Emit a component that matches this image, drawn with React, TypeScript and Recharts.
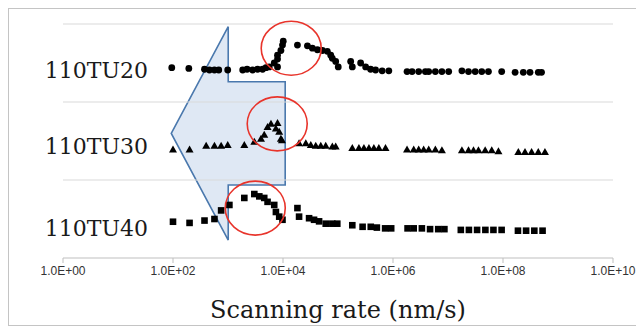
import { ScatterChart, Scatter, XAxis, YAxis, ReferenceLine, ReferenceDot, ReferenceArea } from 'recharts'

// row names (bottom to top) and where their labels sit on the y scale
const rowNames = ['110TU40', '110TU30', '110TU20']
const rowTicks = [0.38, 1.44, 2.41]
const bandLines = [1, 2, 3]
const xTicks = [1, 1e2, 1e4, 1e6, 1e8, 1e10]

// scanning rate (nm/s) and plotted position
const tu20Rate = [
  95, 194, 374, 460, 567, 679, 988, 1850, 2220, 2800, 3450, 4250, 4900, 5620, 6930, 7950, 7950, 9160, 9790, 10100,
  7950, 18300, 27800, 34200, 42200, 52000, 64000, 73800, 78900, 90800, 101000, 170000, 182000, 258000, 318000,
  391000, 482000, 635000, 840000, 1.8e6, 2.22e6, 2.93e6, 3.88e6, 4.46e6, 5.89e6, 7.75e6, 1.03e7, 1.79e7, 2.36e7,
  3.12e7, 4.11e7, 5.44e7, 9.47e7, 1.66e8, 2.34e8, 3.1e8, 4.38e8, 5.02e8,
]
const tu20Pos = [
  2.44, 2.43, 2.42, 2.41, 2.41, 2.41, 2.41, 2.41, 2.42, 2.41, 2.42, 2.42, 2.44, 2.45, 2.5, 2.55, 2.6, 2.66, 2.73, 2.78,
  2.45, 2.73, 2.72, 2.69, 2.67, 2.66, 2.65, 2.6, 2.56, 2.52, 2.45, 2.52, 2.45, 2.5, 2.45,
  2.42, 2.41, 2.4, 2.4, 2.39, 2.39, 2.39, 2.39, 2.39, 2.39, 2.39, 2.39, 2.4, 2.39,
  2.39, 2.39, 2.39, 2.39, 2.38, 2.38, 2.38, 2.38, 2.38,
]

const tu30Rate = [
  100, 200, 401, 567, 750, 988, 1980, 3010, 3980, 4560, 5240, 6040, 7950, 7430, 8530, 9160, 9550,
  19600, 26000, 32000, 39400, 48600, 59800, 78900, 90800, 182000, 240000, 296000, 365000, 449000, 553000, 731000,
  1.8e6, 2.38e6, 2.93e6, 3.61e6, 4.46e6, 5.89e6, 7.75e6, 1.79e7, 2.36e7, 2.91e7, 3.58e7, 4.74e7, 6.24e7, 8.26e7,
  1.9e8, 2.51e8, 3.31e8, 4.38e8, 5.79e8,
]
const tu30Pos = [
  1.39, 1.39, 1.44, 1.44, 1.44, 1.45, 1.45, 1.49, 1.53, 1.58, 1.68, 1.72, 1.73, 1.66, 1.62, 1.53, 1.51,
  1.47, 1.47, 1.45, 1.44, 1.44, 1.44, 1.43, 1.43, 1.41, 1.41, 1.41, 1.41, 1.41, 1.41, 1.41,
  1.39, 1.39, 1.39, 1.39, 1.39, 1.39, 1.38, 1.38, 1.38, 1.38, 1.38, 1.38, 1.38, 1.37,
  1.36, 1.36, 1.36, 1.36, 1.36,
]

const tu40Rate = [
  100, 200, 374, 567, 750, 1060, 1980, 3010, 3710, 4560, 5240, 6930, 7430, 8530, 9790,
  18300, 19600, 29800, 36700, 45300, 59800, 78900, 97100, 182000, 280000, 394000, 509000, 719000, 927000,
  1.84e6, 2.38e6, 3.35e6, 4.72e6, 6.64e6, 8.6e6, 1.71e7, 2.4e7, 3.38e7, 4.78e7, 6.7e7, 9.44e7,
  1.87e8, 2.63e8, 3.71e8, 5.24e8,
]
const tu40Pos = [
  0.465, 0.45, 0.48, 0.5, 0.61, 0.68, 0.77, 0.82, 0.79, 0.77, 0.72, 0.68, 0.59, 0.53, 0.49,
  0.64, 0.53, 0.51, 0.49, 0.47, 0.44, 0.44, 0.44, 0.42, 0.4, 0.4, 0.39, 0.38, 0.38,
  0.38, 0.38, 0.38, 0.37, 0.37, 0.37, 0.36, 0.36, 0.36, 0.36, 0.36, 0.36,
  0.35, 0.35, 0.35, 0.35,
]

// red circles around the peaks, and the box the blue arrow fills
const peakRate = [14100, 7850, 3130]
const peakPos = [2.69, 1.72, 0.64]
const arrowRate = [93, 10960]
const arrowPos = [0.23, 2.965]

const toPoints = (xs: number[], ys: number[]) => xs.map((x, i) => ({ x, y: ys[i] }))
const tu20 = toPoints(tu20Rate, tu20Pos)
const tu30 = toPoints(tu30Rate, tu30Pos)
const tu40 = toPoints(tu40Rate, tu40Pos)

const fmtExp = (v: number) => {
  const e = Math.round(Math.log10(v))
  return `1.0E+${String(e).padStart(2, '0')}`
}

const Dot = (p: any) => <circle cx={p.cx} cy={p.cy} r={3.4} fill="#000" />
const Tri = (p: any) => (
  <polygon points={`${p.cx},${p.cy - 4} ${p.cx + 4},${p.cy + 3} ${p.cx - 4},${p.cy + 3}`} fill="#000" />
)
const Sq = (p: any) => <rect x={p.cx - 3.3} y={p.cy - 3.3} width={6.6} height={6.6} fill="#000" />

const Ring = (p: any) => (
  <ellipse cx={p.cx} cy={p.cy} rx={30} ry={27} fill="none" stroke="#e8342b" strokeWidth={1.6} />
)

function ArrowShape({ x, y, width, height }: any) {
  const mx = x + width * 0.5
  const pts = [
    [x, y + height * 0.5],
    [mx, y],
    [mx, y + height * 0.258],
    [x + width, y + height * 0.258],
    [x + width, y + height * 0.742],
    [mx, y + height * 0.742],
    [mx, y + height],
  ]
  return (
    <polygon
      points={pts.map(p => p.join(',')).join(' ')}
      fill="#c9d8ec"
      fillOpacity={0.6}
      stroke="#4a78ad"
      strokeWidth={1.6}
    />
  )
}

// plot left edge is 54px into the chart; labels end about 85px right of it
const renderRowLabel = (props: any) => {
  const { y, payload, index } = props
  const name = rowNames[index] ?? rowNames[rowTicks.indexOf(payload?.value)]
  return (
    <text x={54 + 85} y={y} dy={8} textAnchor="end" fontFamily="DejaVu Serif" fontSize={22} fill="#1a1a1a">
      {name}
    </text>
  )
}

function AxisTitle({ viewBox }: any) {
  return (
    <text
      x={viewBox.x + viewBox.width / 2}
      y={viewBox.y + 60}
      textAnchor="middle"
      fontFamily="DejaVu Serif"
      fontSize={24}
      fill="#1a1a1a"
    >
      Scanning rate (nm/s)
    </text>
  )
}

export default function App() {
  return (
    <div style={{ width: 628, height: 316, border: '1px solid #c4c4c4', position: 'relative' }}>
      <ScatterChart
        width={628}
        height={316}
        margin={{ top: 15, right: 24, left: 53, bottom: 37 }}
        style={{ overflow: 'visible' }}
      >
        <XAxis
          type="number"
          dataKey="x"
          scale="log"
          domain={[1, 1e10]}
          ticks={xTicks}
          interval={0}
          allowDataOverflow
          tickFormatter={fmtExp}
          height={30}
          stroke="#bfbfbf"
          tickSize={5}
          tickMargin={3}
          tick={{ fill: '#333', fontSize: 12, fontFamily: 'Liberation Sans' }}
          label={<AxisTitle />}
        />
        <YAxis
          type="number"
          dataKey="y"
          domain={[0, 3]}
          ticks={rowTicks}
          interval={0}
          width={1}
          axisLine={false}
          tickLine={false}
          tick={renderRowLabel}
        />
        {bandLines.map(v => (
          <ReferenceLine key={v} y={v} stroke="#d9d9d9" strokeWidth={1.2} />
        ))}
        <ReferenceArea
          x1={arrowRate[0]}
          x2={arrowRate[1]}
          y1={arrowPos[0]}
          y2={arrowPos[1]}
          shape={<ArrowShape />}
        />
        <Scatter data={tu20} shape={Dot} isAnimationActive={false} />
        <Scatter data={tu30} shape={Tri} isAnimationActive={false} />
        <Scatter data={tu40} shape={Sq} isAnimationActive={false} />
        {peakRate.map((x, i) => (
          <ReferenceDot key={i} x={x} y={peakPos[i]} r={28} shape={Ring} />
        ))}
      </ScatterChart>
    </div>
  )
}
